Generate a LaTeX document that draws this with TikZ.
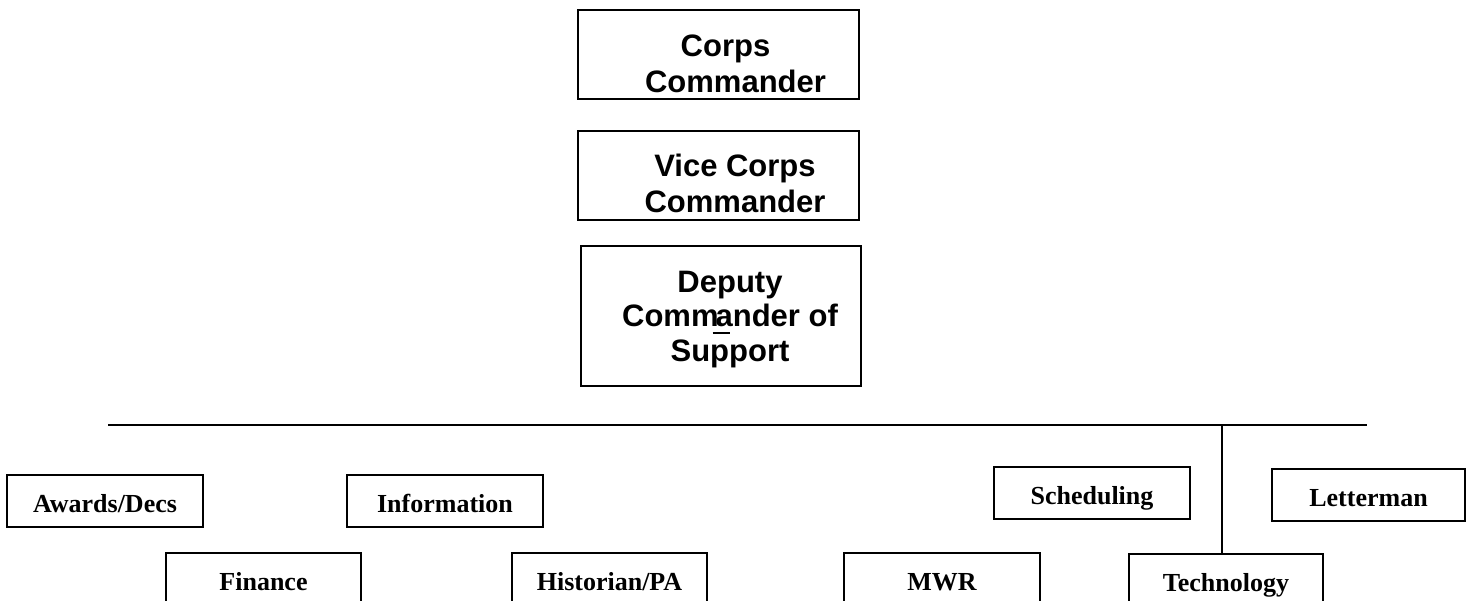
\documentclass[tikz,border=0pt]{standalone}
\usepackage{fontspec}
\newfontfamily\topfont{Liberation Sans}
\newfontfamily\botfont{Liberation Serif}
\begin{document}
\begin{tikzpicture}[x=1pt,y=-1pt,
  topbox/.style={draw, line width=2pt, rectangle, inner sep=0pt},
  toptext/.style={font=\topfont\bfseries\fontsize{31}{36}\selectfont, align=center, inner sep=0pt},
  botbox/.style={draw, line width=2pt, rectangle, inner sep=0pt, minimum height=52pt, minimum width=196pt,
    font=\botfont\bfseries\fontsize{26}{30}\selectfont, text height=23pt, text depth=0pt},
  link/.style={line width=1.5pt}]
\useasboundingbox (0,0) rectangle (1467,601);
\clip (0,0) rectangle (1467,601);

% top chain
\node[topbox, minimum width=281pt, minimum height=89pt] (cc) at (718.5,54.5) {};
\node[toptext] (cct) at (735.5,64.2) {Corps\hspace*{20pt}\\Commander};

\node[topbox, minimum width=281pt, minimum height=89pt] (vc) at (718.5,175.5) {};
\node[toptext] (vct) at (735,183.7) {Vice Corps\\Commander};

\node[topbox, minimum width=280pt, minimum height=140pt] (dc) at (721,316) {};
\node[toptext, font=\topfont\bfseries\fontsize{31}{34.5}\selectfont] (dct) at (730,319.5)
  {Deputy\\Comm\kern-3pt\rlap{\kern-3pt\rule[-7pt]{17pt}{2pt}}ander of\\Support};

% bar
\coordinate (hl) at (108,425);
\coordinate (hr) at (1367,425);
\coordinate (drop) at (1222,425);
\draw[link] (hl) -- (hr);

% bottom boxes
\node[botbox] (aw) at (105,501) {Awards/Decs};
\node[botbox] (inf) at (445,501) {Information};
\node[botbox] (sch) at (1092,493) {Scheduling};
\node[botbox, minimum width=193pt] (let) at (1368.5,495) {Letterman};
\node[botbox, minimum width=195pt] (fin) at (263.5,579) {Finance};
\node[botbox, minimum width=195pt] (his) at (609.5,579) {Historian/PA};
\node[botbox] (mwr) at (942,579) {MWR};
\node[botbox, minimum width=194pt] (tech) at (1226,580) {Technology};

\draw[link] (drop) -- (drop |- tech.north);
\end{tikzpicture}
\end{document}
